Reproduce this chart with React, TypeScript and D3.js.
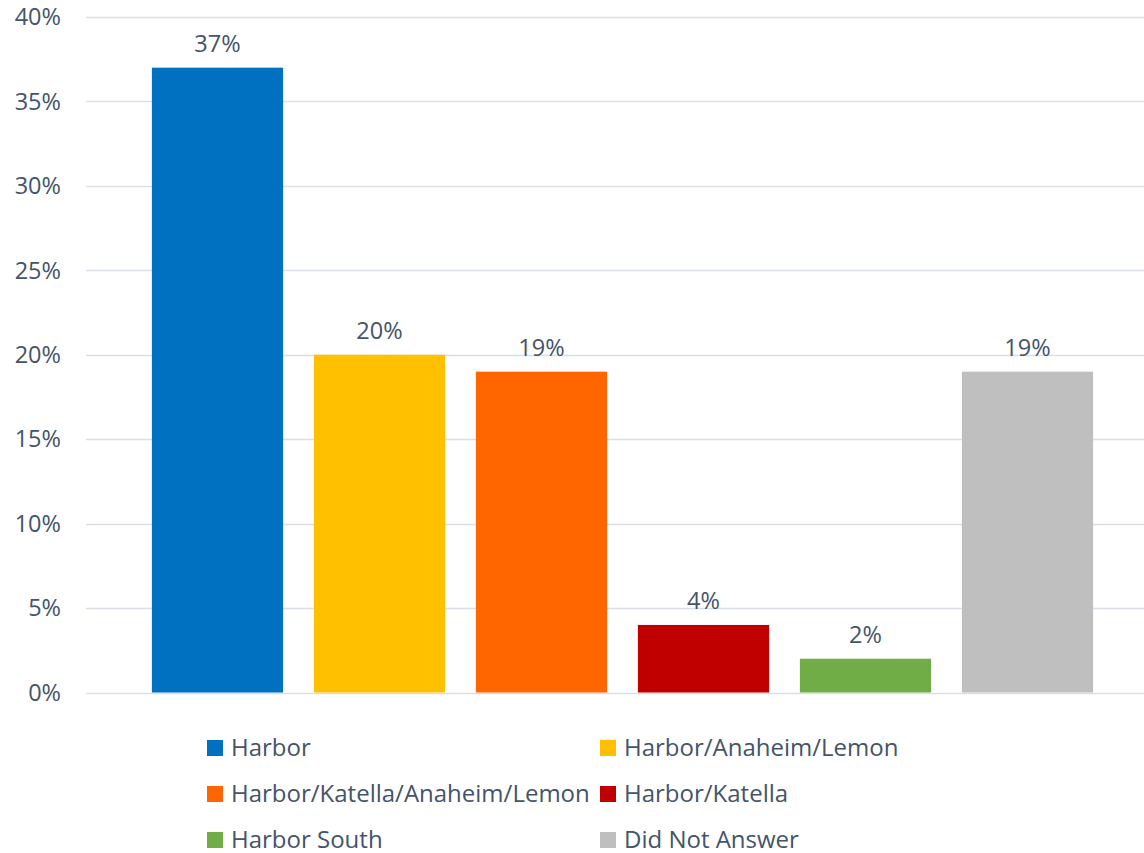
import * as React from "react";
import * as d3 from "d3";

const categories = [
  "Harbor",
  "Harbor/Anaheim/Lemon",
  "Harbor/Katella/Anaheim/Lemon",
  "Harbor/Katella",
  "Harbor South",
  "Did Not Answer",
];
const values = [37, 20, 19, 4, 2, 19];
const colors = ["#0070C0", "#FFC000", "#FF6600", "#C00000", "#70AD47", "#BFBFBF"];
const yTicks = [0, 5, 10, 15, 20, 25, 30, 35, 40];

const W = 1144;
const H = 853;
const FONT = "'Open Sans', sans-serif";
const TEXT = "#44546A";

const App: React.FunctionComponent = () => {
  const x = d3
    .scaleBand<string>()
    .domain(categories)
    .range([136.5, 1108.5])
    .paddingInner(0.19)
    .paddingOuter(0.095);

  const y = d3.scaleLinear().domain([0, 40]).range([692.5, 17]);

  // legend: 3 rows x 2 columns, row-major
  const legendCol = d3.scaleOrdinal<number, number>().domain([0, 1]).range([207, 600]);
  const legendRow = d3.scalePoint<number>().domain([0, 1, 2]).range([748, 840]);

  return (
    <svg
      width={W}
      height={H}
      style={{ position: "absolute", left: 0, top: 0, background: "#fff" }}
      fontFamily={FONT}
    >
      <g className="grid">
        {yTicks.map(t => (
          <line
            key={t}
            x1={86}
            x2={W}
            y1={Math.round(y(t)) + 0.5}
            y2={Math.round(y(t)) + 0.5}
            stroke="#D9DEE7"
            strokeWidth={1.3}
          />
        ))}
      </g>
      <g className="y-axis">
        {yTicks.map(t => (
          <text
            key={t}
            x={61}
            y={y(t)}
            dy="0.35em"
            textAnchor="end"
            fontSize={23.5}
            fill={TEXT}
          >
            {t}%
          </text>
        ))}
      </g>
      <g className="bars">
        {categories.map((c, i) => (
          <rect
            key={c}
            x={x(c)}
            y={y(values[i])}
            width={x.bandwidth()}
            height={y(0) - y(values[i])}
            fill={colors[i]}
          />
        ))}
      </g>
      <g className="labels">
        {categories.map((c, i) => (
          <text
            key={c}
            x={(x(c) as number) + x.bandwidth() / 2}
            y={y(values[i]) - 16}
            textAnchor="middle"
            fontSize={23.5}
            fill={TEXT}
          >
            {values[i]}%
          </text>
        ))}
      </g>
      <g className="legend">
        {categories.map((c, i) => {
          const lx = legendCol(i % 2);
          const ly = legendRow(Math.floor(i / 2)) as number;
          return (
            <g key={c} transform={`translate(${lx},${ly})`}>
              <rect x={0} y={-8} width={16} height={16} fill={colors[i]} />
              <text x={24} y={0} dy="0.35em" fontSize={24} fill={TEXT}>
                {c}
              </text>
            </g>
          );
        })}
      </g>
    </svg>
  );
};

export default App;
